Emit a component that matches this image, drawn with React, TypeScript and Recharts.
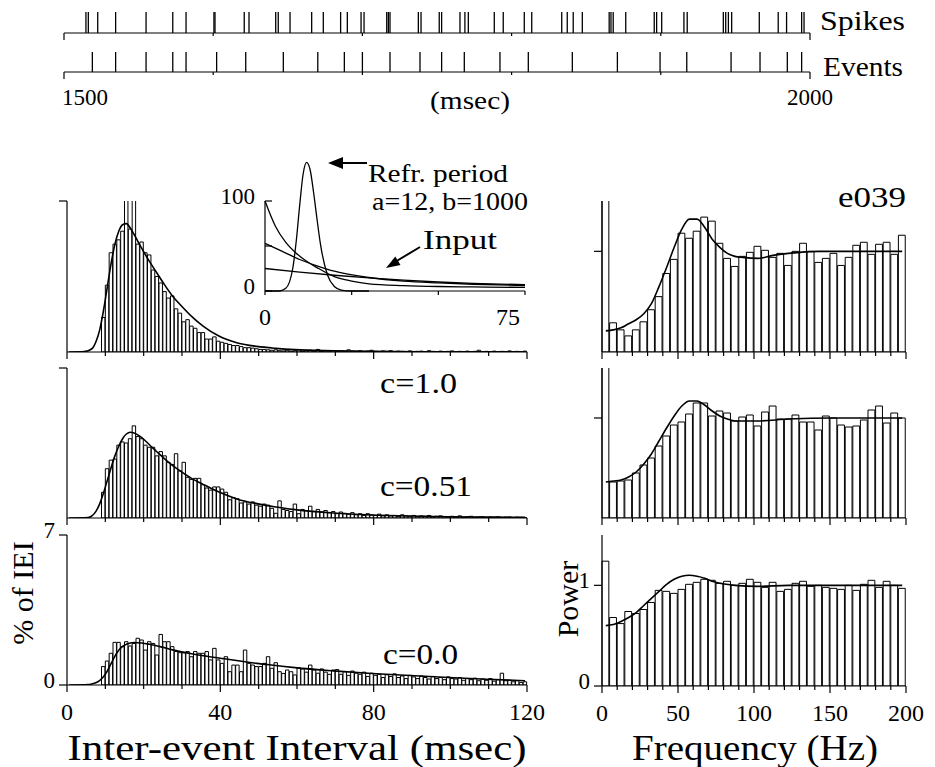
import React from 'react';
import {
  ComposedChart,
  ScatterChart,
  Scatter,
  Bar,
  Line,
  XAxis,
  YAxis,
  ReferenceLine,
} from 'recharts';

const FONT = '"Liberation Serif", "Times New Roman", Times, serif';

// ---- spike / event raster (msec) ----
const spikeTimes = [
  1514.7, 1516.3, 1522.6, 1534.6, 1555.0, 1572.9, 1581.8, 1600.5, 1601.2, 1620.8,
  1624.0, 1641.9, 1643.6, 1651.5, 1666.0, 1673.8, 1685.4, 1689.9, 1699.1, 1701.1,
  1716.3, 1717.4, 1718.5, 1737.5, 1739.3, 1751.5, 1753.1, 1765.4, 1768.7, 1771.0,
  1788.4, 1794.4, 1808.5, 1813.5, 1833.6, 1837.3, 1841.3, 1847.4, 1865.4, 1866.6,
  1868.1, 1876.5, 1895.6, 1897.2, 1900.6, 1915.5, 1917.7, 1941.9, 1943.5, 1945.3,
  1947.5, 1966.0, 1978.7, 1984.3, 1994.4, 1996.0,
];
const eventTimes = [
  1519.0, 1534.6, 1555.0, 1572.9, 1581.8, 1602.3, 1621.8, 1647.0, 1670.1, 1687.9,
  1700.0, 1718.5, 1738.6, 1753.1, 1768.3, 1792.2, 1811.2, 1840.7, 1870.9, 1899.5,
  1917.4, 1947.1, 1966.5, 1984.8, 1994.4,
];
const rasterTicks = [1500, 1600, 1700, 1800, 1900, 2000];

// ---- inter-event interval histograms, % of IEI per 1 msec bin ----
const ieiC10 = [
  0, 0, 0, 0, 0, 0, 0, 0, 0, 1.6,
  3.1, 4.6, 5.0, 5.2, 5.6, 7.5, 5.7, 7.5, 5.0, 5.1,
  4.6, 4.5, 3.8, 3.5, 3.2, 2.8, 2.5, 2.6, 2.0, 1.8,
  1.4, 1.5, 1.2, 1.1, 0.9, 0.9, 0.6, 0.6, 0.7, 0.5,
  0.45, 0.4, 0.35, 0.3, 0.3, 0.25, 0.2, 0.2, 0.18, 0.15,
  0.12, 0.12, 0.1, 0.08, 0.1, 0.06, 0.05, 0.08, 0.04, 0.06,
  0.1, 0.03, 0.05, 0.08, 0.04, 0.12, 0.03, 0.05, 0.04, 0.07,
  0.03, 0.05, 0.02, 0.1, 0.04, 0.03, 0.06, 0.02, 0.04, 0.08,
  0.03, 0.02, 0.05, 0.03, 0.06, 0.02, 0.04, 0.03, 0.02, 0.05,
  0.02, 0.03, 0.04, 0.02, 0.06, 0.03, 0.02, 0.04, 0.02, 0.03,
  0.05, 0.02, 0.03, 0.02, 0.04, 0.02, 0.03, 0.08, 0.02, 0.03,
  0.02, 0.04, 0.02, 0.03, 0.02, 0.05, 0.02, 0.03, 0.02, 0.04,
];
const ieiC051 = [
  0, 0, 0, 0, 0, 0, 0, 0, 0, 1.2,
  2.3, 2.7, 2.75, 3.4, 3.55, 3.5, 3.7, 4.3, 3.8, 3.7,
  3.4, 3.3, 3.3, 2.9, 3.1, 2.9, 2.6, 2.5, 3.0, 2.2,
  2.6, 1.9, 1.8, 1.85, 1.85, 1.55, 1.4, 1.3, 1.45, 1.45,
  1.35, 1.2, 0.85, 0.95, 0.9, 0.7, 0.75, 0.65, 0.75, 0.6,
  0.55, 0.65, 0.6, 0.45, 0.22, 0.8, 0.4, 0.35, 0.3, 0.65,
  0.2, 0.4, 0.35, 0.55, 0.3, 0.4, 0.28, 0.35, 0.25, 0.3,
  0.2, 0.28, 0.22, 0.18, 0.25, 0.15, 0.2, 0.12, 0.2, 0.15,
  0.12, 0.18, 0.1, 0.15, 0.1, 0.12, 0.08, 0.15, 0.1, 0.08,
  0.12, 0.06, 0.1, 0.08, 0.12, 0.05, 0.08, 0.1, 0.06, 0.05,
  0.08, 0.05, 0.1, 0.04, 0.06, 0.08, 0.04, 0.05, 0.06, 0.03,
  0.05, 0.04, 0.06, 0.03, 0.04, 0.05, 0.02, 0.04, 0.03, 0.02,
];
const ieiC00 = [
  0, 0, 0, 0, 0, 0, 0, 0, 0, 0.86,
  1.12, 1.48, 1.99, 1.99, 1.79, 2.02, 1.82, 1.94, 2.18, 2.1,
  1.63, 2.02, 1.94, 1.4, 2.36, 2.02, 2.02, 1.79, 1.56, 1.51,
  1.5, 1.56, 1.32, 1.56, 1.48, 1.48, 1.56, 1.17, 1.71, 1.17,
  1.01, 1.32, 0.62, 0.93, 0.93, 0.62, 1.63, 1.01, 0.93, 0.86,
  0.86, 1.01, 1.32, 0.78, 1.04, 0.62, 0.54, 0.7, 0.62, 0.47,
  0.8, 0.75, 0.6, 0.93, 0.7, 0.55, 0.75, 0.6, 0.5, 0.7,
  0.72, 0.5, 0.62, 0.45, 0.65, 0.55, 0.5, 0.6, 0.4, 0.55,
  0.45, 0.5, 0.35, 0.48, 0.4, 0.52, 0.35, 0.42, 0.3, 0.45,
  0.38, 0.3, 0.42, 0.35, 0.28, 0.4, 0.3, 0.35, 0.25, 0.38,
  0.3, 0.28, 0.35, 0.22, 0.3, 0.25, 0.32, 0.2, 0.28, 0.22,
  0.3, 0.18, 0.25, 0.55, 0.2, 0.22, 0.15, 0.2, 0.12, 0.15,
];

// fitted curves, sampled at bin centres (msec)
const ieiFitC10T = [0.5, 4.5, 6.5, 7.5, 8.5, 9.5, 10.5, 11.5, 12.5, 13.5, 14.5, 15.5, 16.5, 17.5, 19.5, 21.5, 23.5, 25.5, 27.5, 29.5, 32.5, 35.5, 39.5, 44.5, 49.5, 54.5, 59.5, 69.5, 79.5, 99.5, 119.5];
const ieiFitC10 = [0, 0.02, 0.15, 0.45, 1.0, 1.9, 3.0, 4.1, 5.0, 5.6, 5.9, 5.95, 5.75, 5.45, 4.8, 4.2, 3.65, 3.1, 2.6, 2.2, 1.65, 1.2, 0.75, 0.42, 0.26, 0.17, 0.11, 0.06, 0.03, 0.01, 0.005];
const ieiFitC051T = [0.5, 5.5, 6.5, 7.5, 8.5, 9.5, 10.5, 11.5, 12.5, 13.5, 14.5, 15.5, 16.5, 17.5, 19.5, 21.5, 23.5, 26.5, 29.5, 32.5, 35.5, 39.5, 44.5, 49.5, 54.5, 59.5, 69.5, 79.5, 89.5, 99.5, 109.5, 119.5];
const ieiFitC051 = [0, 0.02, 0.1, 0.3, 0.65, 1.15, 1.75, 2.35, 2.9, 3.35, 3.7, 3.92, 4.0, 3.97, 3.75, 3.42, 3.08, 2.6, 2.2, 1.85, 1.57, 1.22, 0.88, 0.67, 0.51, 0.39, 0.23, 0.14, 0.09, 0.06, 0.04, 0.03];
const ieiFitC00T = [0.5, 5.5, 6.5, 7.5, 8.5, 9.5, 10.5, 11.5, 12.5, 13.5, 14.5, 15.5, 17.5, 19.5, 21.5, 24.5, 27.5, 32.5, 36.5, 41.5, 45.5, 49.5, 54.5, 59.5, 69.5, 79.5, 89.5, 99.5, 109.5, 119.5];
const ieiFitC00 = [0, 0.02, 0.05, 0.1, 0.2, 0.38, 0.65, 1.0, 1.35, 1.62, 1.8, 1.9, 1.98, 1.96, 1.9, 1.78, 1.64, 1.46, 1.34, 1.21, 1.11, 1.01, 0.91, 0.81, 0.66, 0.54, 0.44, 0.35, 0.27, 0.2];

const ieiTicks = [0, 10, 20, 30, 40, 50, 60, 70, 80, 90, 100, 110, 120];
const ieiLabels = [0, 40, 80, 120];

// ---- power spectra, 5 Hz bins ----
const powC10 = [
  2.0, 0.29, 0.22, 0.16, 0.22, 0.3, 0.42, 0.55, 0.78, 0.92,
  1.18, 1.13, 1.2, 1.34, 1.3, 1.08, 0.93, 0.85, 0.95, 0.99,
  1.05, 1.01, 0.94, 0.98, 0.86, 1.0, 1.08, 1.0, 0.89, 0.93,
  0.98, 0.86, 0.94, 1.06, 1.09, 0.97, 1.07, 1.09, 0.97, 1.16,
];
const powC051 = [
  2.0, 0.36, 0.37, 0.38, 0.45, 0.53, 0.6, 0.72, 0.82, 0.93,
  0.96, 1.04, 1.15, 1.15, 1.02, 1.07, 1.05, 0.97, 1.01, 1.03,
  0.92, 1.06, 1.12, 0.99, 0.99, 1.03, 0.96, 0.96, 0.88, 1.02,
  1.0, 0.93, 0.91, 0.92, 0.98, 1.08, 1.12, 0.95, 1.05, 1.0,
];
const powC00 = [
  1.24, 0.68, 0.62, 0.74, 0.72, 0.76, 0.83, 0.95, 0.94, 0.92,
  0.96, 1.01, 1.03, 1.06, 1.05, 1.02, 1.04, 1.0, 1.02, 1.06,
  1.03, 0.98, 1.03, 0.94, 0.96, 1.02, 1.04, 0.99, 1.0, 0.98,
  0.97, 0.96, 1.0, 0.95, 1.01, 1.05, 0.98, 1.04, 1.0, 0.97,
];
const powFitC10F = [2.5, 7.5, 12.5, 17.5, 22.5, 27.5, 32.5, 37.5, 42.5, 47.5, 52.5, 57.5, 62.5, 67.5, 72.5, 77.5, 82.5, 87.5, 92.5, 102.5, 112.5, 122.5, 142.5, 162.5, 182.5, 197.5];
const powFitC10 = [0.21, 0.22, 0.24, 0.28, 0.32, 0.38, 0.48, 0.65, 0.84, 1.04, 1.22, 1.32, 1.32, 1.24, 1.12, 1.04, 0.98, 0.95, 0.94, 0.93, 0.96, 0.98, 1.0, 1.0, 1.0, 1.0];
const powFitC051F = [2.5, 7.5, 12.5, 17.5, 22.5, 27.5, 32.5, 37.5, 42.5, 47.5, 52.5, 57.5, 62.5, 67.5, 72.5, 77.5, 82.5, 87.5, 92.5, 102.5, 122.5, 152.5, 197.5];
const powFitC051 = [0.36, 0.37, 0.38, 0.41, 0.46, 0.54, 0.64, 0.77, 0.9, 1.02, 1.12, 1.17, 1.17, 1.13, 1.07, 1.02, 0.99, 0.97, 0.97, 0.97, 0.99, 1.0, 1.0];
const powFitC00F = [2.5, 7.5, 12.5, 17.5, 22.5, 27.5, 32.5, 37.5, 42.5, 47.5, 52.5, 57.5, 62.5, 67.5, 72.5, 77.5, 87.5, 102.5, 122.5, 162.5, 197.5];
const powFitC00 = [0.6, 0.61, 0.64, 0.68, 0.73, 0.8, 0.87, 0.94, 1.01, 1.06, 1.09, 1.1, 1.09, 1.07, 1.04, 1.02, 1.0, 0.99, 1.0, 1.0, 1.0];

const powTicks = [0, 10, 20, 30, 40, 50, 60, 70, 80, 90, 100, 110, 120, 130, 140, 150, 160, 170, 180, 190, 200];
const powLabels = [0, 50, 100, 150, 200];

// ---- inset: refractory period and input distributions ----
const refrT = [0, 4, 6, 8, 9, 10, 11, 12, 13, 14, 15, 16, 18, 20, 22, 25, 30];
const refrV = [0, 0, 3, 25, 55, 95, 130, 143, 135, 110, 80, 52, 18, 5, 1, 0, 0];
const fastT = [0, 3, 6, 9, 12, 15, 20, 25, 30, 40, 50, 60, 75];
const fastV = [100, 72, 54, 42, 33, 26, 16, 11, 8, 6, 5, 4.5, 4];
const midT = [0, 5, 10, 15, 20, 30, 40, 50, 60, 75];
const midV = [53, 44, 35, 28, 22, 15, 11, 9, 7.5, 6];
const slowT = [0, 10, 20, 30, 40, 50, 60, 75];
const slowV = [25, 21, 17.5, 14.5, 12, 10, 8.5, 7];

type HistRow = { x: number; count: number; fit: number | null };

function buildRows(counts: number[], binW: number, fitX: number[], fitY: number[]): HistRow[] {
  const rows: HistRow[] = counts.map((c, i) => ({ x: (i + 0.5) * binW, count: c, fit: null }));
  fitX.forEach((fx, j) => {
    const i = Math.round(fx / binW - 0.5);
    if (rows[i]) rows[i].fit = fitY[j];
  });
  return rows;
}

function buildInsetRows() {
  const series: Record<string, [number[], number[]]> = {
    refr: [refrT, refrV],
    fast: [fastT, fastV],
    mid: [midT, midV],
    slow: [slowT, slowV],
  };
  const all = Array.from(new Set([...refrT, ...fastT, ...midT, ...slowT])).sort((a, b) => a - b);
  return all.map((t) => {
    const row: Record<string, number | null> = { t };
    Object.keys(series).forEach((k) => {
      const [ts, vs] = series[k];
      const i = ts.indexOf(t);
      row[k] = i >= 0 ? vs[i] : null;
    });
    return row;
  });
}

const xTick =
  (
    labels: number[],
    majors: number[],
    minorLen: number,
    majorLen: number,
    gap: number,
    endAnchored: number[] = []
  ) =>
  (p: any) => {
    const v = p.payload.value;
    const len = majors.includes(v) ? majorLen : minorLen;
    const atEnd = endAnchored.includes(v);
    return (
      <g>
        <line x1={p.x} x2={p.x} y1={p.y} y2={p.y + len} stroke="#000" strokeWidth={1.2} />
        {labels.includes(v) && (
          <text
            x={atEnd ? p.x - 5 : p.x}
            y={p.y + gap}
            textAnchor={atEnd ? 'end' : 'middle'}
            dominantBaseline="central"
            fontFamily={FONT}
            fontSize={24}
            fill="#000"
          >
            {v}
          </text>
        )}
      </g>
    );
  };

const yTick =
  (labels: number[], len: number, gap: number, inward = false) =>
  (p: any) => {
    const v = p.payload.value;
    return (
      <g>
        <line
          x1={p.x}
          x2={inward ? p.x + len : p.x - len}
          y1={p.y}
          y2={p.y}
          stroke="#000"
          strokeWidth={1.2}
        />
        {labels.includes(v) && (
          <text
            x={inward ? p.x - gap : p.x - len - gap}
            y={p.y - 5}
            textAnchor="end"
            dominantBaseline="central"
            fontFamily={FONT}
            fontSize={23}
            fill="#000"
          >
            {v}
          </text>
        )}
      </g>
    );
  };

type HistProps = {
  left: number;
  top: number;
  w: number;
  h: number;
  rows: HistRow[];
  xMax: number;
  xTicks: number[];
  xLabels: number[];
  xMajors: number[];
  yMax: number;
  yTicks: number[];
  yLabels: number[];
  barSize: number;
};

function HistPanel(p: HistProps) {
  const padL = 60;
  const padT = 22;
  const padR = 30;
  const padB = 45;
  return (
    <div style={{ position: 'absolute', left: p.left - padL, top: p.top - padT }}>
      <ComposedChart
        width={padL + p.w + padR}
        height={padT + p.h + padB}
        data={p.rows}
        margin={{ top: padT, right: padR, bottom: 0, left: 0 }}
      >
        <XAxis
          type="number"
          dataKey="x"
          domain={[0, p.xMax]}
          ticks={p.xTicks}
          interval={0}
          height={padB}
          tickSize={0}
          tickMargin={0}
          tickLine={false}
          axisLine={{ stroke: '#000', strokeWidth: 1.2 }}
          tick={xTick(p.xLabels, p.xMajors, 4, 7, 27)}
        />
        <YAxis
          type="number"
          domain={[0, p.yMax]}
          ticks={p.yTicks}
          allowDataOverflow
          width={padL}
          tickSize={0}
          tickMargin={0}
          tickLine={false}
          axisLine={{ stroke: '#000', strokeWidth: 1.2 }}
          tick={yTick(p.yLabels, 8, 4)}
        />
        <Bar
          dataKey="count"
          barSize={p.barSize}
          fill="#fff"
          stroke="#000"
          strokeWidth={1}
          isAnimationActive={false}
        />
        <Line
          dataKey="fit"
          type="monotone"
          stroke="#000"
          strokeWidth={1.6}
          dot={false}
          connectNulls
          isAnimationActive={false}
        />
      </ComposedChart>
    </div>
  );
}

const rasterTick = (showLabels: boolean) => (p: any) => {
  const v = p.payload.value;
  const end = v === 1500 || v === 2000;
  return (
    <g>
      <line x1={p.x} x2={p.x} y1={p.y} y2={p.y + (end ? 7 : 3)} stroke="#000" strokeWidth={1.2} />
      {showLabels && end && (
        <text
          x={v === 1500 ? p.x - 2 : p.x}
          y={p.y + 25}
          textAnchor={v === 1500 ? 'start' : 'middle'}
          dominantBaseline="central"
          fontFamily={FONT}
          fontSize={23}
          fill="#000"
        >
          {v}
        </text>
      )}
    </g>
  );
};

function RasterRow({ top, h, times, labels }: { top: number; h: number; times: number[]; labels: boolean }) {
  const rows = times.map((t) => ({ t, y: 0 }));
  const padL = 64;
  const padT = 2;
  const padR = 30;
  const padB = 40;
  const mark = (p: any) => (
    <line x1={p.cx} x2={p.cx} y1={p.cy} y2={p.cy - h} stroke="#000" strokeWidth={1.3} />
  );
  return (
    <div style={{ position: 'absolute', left: 0, top: top - padT }}>
      <ScatterChart
        width={padL + 746 + padR}
        height={padT + h + padB}
        margin={{ top: padT, right: padR, bottom: 0, left: padL }}
      >
        <XAxis
          type="number"
          dataKey="t"
          domain={[1500, 2000]}
          ticks={rasterTicks}
          interval={0}
          height={padB}
          tickSize={0}
          tickMargin={0}
          tickLine={false}
          axisLine={{ stroke: '#000', strokeWidth: 1.2 }}
          tick={rasterTick(labels)}
        />
        <YAxis type="number" dataKey="y" domain={[0, 1]} hide />
        <Scatter data={rows} shape={mark} isAnimationActive={false} />
      </ScatterChart>
    </div>
  );
}

function Inset() {
  const rows = buildInsetRows();
  const padL = 50;
  const padT = 10;
  const padR = 20;
  const padB = 40;
  const curve = (k: string) => (
    <Line
      key={k}
      dataKey={k}
      type="monotone"
      stroke="#000"
      strokeWidth={1.3}
      dot={false}
      connectNulls
      isAnimationActive={false}
    />
  );
  return (
    <div style={{ position: 'absolute', left: 265 - padL, top: 156 - padT }}>
      <ComposedChart
        width={padL + 260 + padR}
        height={padT + 135 + padB}
        data={rows}
        margin={{ top: padT, right: padR, bottom: 0, left: 0 }}
      >
        <XAxis
          type="number"
          dataKey="t"
          domain={[0, 75]}
          ticks={[0, 25, 50, 75]}
          interval={0}
          height={padB}
          tickSize={0}
          tickMargin={0}
          tickLine={false}
          axisLine={{ stroke: '#000', strokeWidth: 1.2 }}
          tick={xTick([0, 75], [], 4, 4, 26, [75])}
        />
        <YAxis
          type="number"
          domain={[0, 150]}
          ticks={[0, 25, 50, 75, 100]}
          width={padL}
          tickSize={0}
          tickMargin={0}
          tickLine={false}
          axisLine={false}
          tick={yTick([0, 100], 7, 10, true)}
        />
        <ReferenceLine segment={[{ x: 0, y: 0 }, { x: 0, y: 100 }]} stroke="#000" strokeWidth={1.2} />
        {['refr', 'fast', 'mid', 'slow'].map(curve)}
      </ComposedChart>
    </div>
  );
}

const Label = ({ x, y, size, children, anchor = 'start', rotate, len }: any) => (
  <text
    x={x}
    y={y}
    fontSize={size}
    textAnchor={anchor}
    dominantBaseline="central"
    fontFamily={FONT}
    fill="#000"
    textLength={len}
    lengthAdjust={len ? 'spacingAndGlyphs' : undefined}
    transform={rotate ? `rotate(${rotate} ${x} ${y})` : undefined}
  >
    {children}
  </text>
);

export default function App() {
  const L = { left: 67, w: 460, barSize: 460 / 120 };
  const R = { left: 602, w: 304, barSize: 304 / 40 };
  return (
    <div
      style={{
        position: 'absolute',
        left: 0,
        top: 0,
        width: 935,
        height: 767,
        background: '#fff',
        overflow: 'hidden',
        fontFamily: FONT,
      }}
    >
      <RasterRow top={12} h={21} times={spikeTimes} labels={false} />
      <RasterRow top={52} h={20} times={eventTimes} labels />

      <HistPanel
        {...L}
        top={201}
        h={151}
        rows={buildRows(ieiC10, 1, ieiFitC10T, ieiFitC10)}
        xMax={120}
        xTicks={ieiTicks}
        xLabels={[]}
        xMajors={ieiLabels}
        yMax={7}
        yTicks={[7]}
        yLabels={[]}
      />
      <HistPanel
        {...L}
        top={368}
        h={150}
        rows={buildRows(ieiC051, 1, ieiFitC051T, ieiFitC051)}
        xMax={120}
        xTicks={ieiTicks}
        xLabels={[]}
        xMajors={ieiLabels}
        yMax={7}
        yTicks={[7]}
        yLabels={[]}
      />
      <HistPanel
        {...L}
        top={535}
        h={150}
        rows={buildRows(ieiC00, 1, ieiFitC00T, ieiFitC00)}
        xMax={120}
        xTicks={ieiTicks}
        xLabels={ieiLabels}
        xMajors={ieiLabels}
        yMax={7}
        yTicks={[0, 7]}
        yLabels={[0, 7]}
      />

      <HistPanel
        {...R}
        top={201}
        h={151}
        rows={buildRows(powC10, 5, powFitC10F, powFitC10)}
        xMax={200}
        xTicks={powTicks}
        xLabels={[]}
        xMajors={powLabels}
        yMax={1.5}
        yTicks={[1]}
        yLabels={[]}
      />
      <HistPanel
        {...R}
        top={368}
        h={150}
        rows={buildRows(powC051, 5, powFitC051F, powFitC051)}
        xMax={200}
        xTicks={powTicks}
        xLabels={[]}
        xMajors={powLabels}
        yMax={1.5}
        yTicks={[1]}
        yLabels={[]}
      />
      <HistPanel
        {...R}
        top={535}
        h={151}
        rows={buildRows(powC00, 5, powFitC00F, powFitC00)}
        xMax={200}
        xTicks={powTicks}
        xLabels={powLabels}
        xMajors={powLabels}
        yMax={1.5}
        yTicks={[0, 1]}
        yLabels={[0, 1]}
      />

      <Inset />

      <svg
        width={935}
        height={767}
        style={{ position: 'absolute', left: 0, top: 0, pointerEvents: 'none' }}
      >
        <Label x={820} y={20} size={28} len={85}>Spikes</Label>
        <Label x={823} y={66} size={28} len={80}>Events</Label>
        <Label x={470} y={100} size={26} anchor="middle" len={80}>(msec)</Label>

        <line x1={367} y1={163} x2={338} y2={163} stroke="#000" strokeWidth={2} />
        <polygon points="328,163 343,157 343,169" fill="#000" />
        <Label x={368} y={173} size={25} len={140}>Refr. period</Label>
        <Label x={372} y={201} size={25} len={156}>a=12, b=1000</Label>
        <Label x={423} y={240} size={27} len={74}>Input</Label>
        <line x1={420} y1={247} x2={395} y2={262} stroke="#000" strokeWidth={2} />
        <polygon points="386,268 400.5,264.9 395.3,256.4" fill="#000" />

        <Label x={838} y={197} size={29} len={68}>e039</Label>
        <Label x={380} y={382} size={30} len={77}>c=1.0</Label>
        <Label x={380} y={485} size={30} len={92}>c=0.51</Label>
        <Label x={383} y={653} size={30} len={75}>c=0.0</Label>

        <Label x={22} y={593} size={30} anchor="middle" rotate={-90}>% of IEI</Label>
        <Label x={567} y={599} size={30} anchor="middle" rotate={-90}>Power</Label>
        <Label x={297} y={748} size={36} anchor="middle" len={459}>Inter-event Interval (msec)</Label>
        <Label x={755} y={748} size={36} anchor="middle" len={246}>Frequency (Hz)</Label>
      </svg>
    </div>
  );
}
